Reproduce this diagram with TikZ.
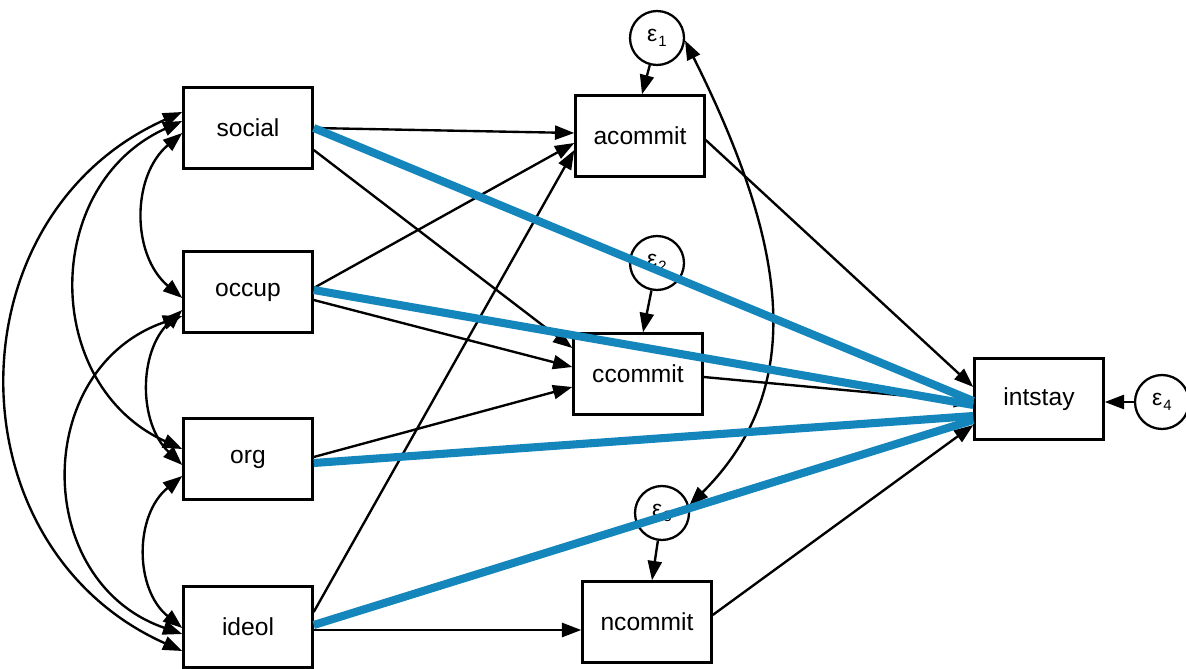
\documentclass[tikz,border=0pt]{standalone}
\usepackage{fontspec}
\setmainfont{Liberation Sans}
\usetikzlibrary{arrows.meta,calc}
\definecolor{pathblue}{RGB}{20,134,188}
% error term label: epsilon with a lowered index
\newcommand{\errlab}[1]{\raisebox{-0.25ex}{ε\kern0.6pt\raisebox{-0.45ex}{\fontsize{8.5}{9}\selectfont #1}}}
\begin{document}
\begin{tikzpicture}[x=0.02cm,y=-0.02cm,
  var/.style={draw,line width=1.4pt,fill=white,minimum width=2.58cm,
    minimum height=1.62cm,inner sep=0pt,font=\fontsize{14}{16}\selectfont},
  err/.style={draw,circle,line width=1.3pt,fill=white,minimum size=1.08cm,
    inner sep=0pt,font=\fontsize{13}{15}\selectfont},
  effect/.style={line width=1.35pt,-{Triangle[length=11pt,width=8pt]}},
  cov/.style={line width=1.35pt,
    {Triangle[length=11pt,width=8pt]}-{Triangle[length=11pt,width=8pt]}},
  hilite/.style={line width=4.6pt,draw=pathblue}]
\useasboundingbox (0,0) rectangle (1186,669);

% observed variables
\node[var] (social)  at (248,128)  {social};
\node[var] (occup)   at (248,292)  {occup};
\node[var] (org)     at (248,459)  {org};
\node[var] (ideol)   at (248,627)  {ideol};
\node[var] (acommit) at (640,136)  {acommit};
\node[var] (ccommit) at (638,374)  {ccommit};
\node[var] (ncommit) at (647,622)  {ncommit};
\node[var] (intstay) at (1039,399) {intstay};

% error terms
\node[err] (e1) at (657,38)   {\errlab{1}};
\node[err] (e2) at (657,263)  {\errlab{2}};
\node[err] (e3) at (662,513)  {\errlab{3}};
\node[err] (e4) at (1162,402) {\errlab{4}};

% covariances among the exogenous variables
\draw[cov] ($(social.west)+(0,-16)$) .. controls +(-233,104) and +(-233,-104) .. ($(ideol.west)+(0,24)$);
\draw[cov] ($(social.west)+(0,-7)$) .. controls +(-141,64) and +(-141,-64) .. ($(org.west)+(0,-10)$);
\draw[cov] ($(social.west)+(0,5)$) .. controls +(-51,43) and +(-51,-43) .. ($(occup.west)+(0,6)$);
\draw[cov] ($(occup.west)+(0,18)$) .. controls +(-44,42) and +(-44,-42) .. ($(org.west)+(0,6)$);
\draw[cov] ($(occup.west)+(0,24)$) .. controls +(-151,52) and +(-151,-52) .. ($(ideol.west)+(0,7)$);
\draw[cov] ($(org.west)+(0,17)$) .. controls +(-48,39) and +(-48,-39) .. ($(ideol.west)+(0,1)$);

% covariance of the error terms
\draw[cov] (e1.-5) .. controls +(105,210) and +(117,-117) .. (e3.15);

% structural paths
\draw[effect] (social.east) -- ($(acommit.west)+(0,-3)$);
\draw[effect] ($(social.east)+(0,22)$) -- ($(ccommit.west)+(0,-26)$);
\draw[effect] ($(occup.east)+(0,-4)$) -- ($(acommit.west)+(0,7)$);
\draw[effect] ($(occup.east)+(0,8)$) -- ($(ccommit.west)+(0,-7)$);
\draw[effect] ($(org.east)+(0,-2)$) -- ($(ccommit.west)+(0,13)$);
\draw[effect] ($(ideol.east)+(0,-15)$) -- ($(acommit.west)+(0,14)$);
\draw[effect] ($(ideol.east)+(0,3)$) -- ($(ncommit.west)+(0,8)$);
\draw[effect] ($(acommit.east)+(0,4)$) -- ($(intstay.west)+(0,-12)$);
\draw[effect] ($(ccommit.east)+(0,3)$) -- ($(intstay.west)+(0,3)$);
\draw[effect] ($(ncommit.east)+(0,-7)$) -- ($(intstay.west)+(0,26)$);

% error paths
\draw[effect] (e1) -- ($(acommit.north)+(2,0)$);
\draw[effect] (e2) -- ($(ccommit.north)+(5,0)$);
\draw[effect] (e3) -- ($(ncommit.north)+(5,0)$);
\draw[effect] (e4.west) -- (e4.west -| intstay.east);

% highlighted direct paths
\draw[hilite] (social.east) -- ($(intstay.west)+(0,2)$);
\draw[hilite] ($(occup.east)+(0,-2)$) -- ($(intstay.west)+(0,6)$);
\draw[hilite] ($(org.east)+(0,4)$) -- ($(intstay.west)+(0,17)$);
\draw[hilite] ($(ideol.east)+(0,-2)$) -- ($(intstay.west)+(0,21)$);
\end{tikzpicture}
\end{document}
